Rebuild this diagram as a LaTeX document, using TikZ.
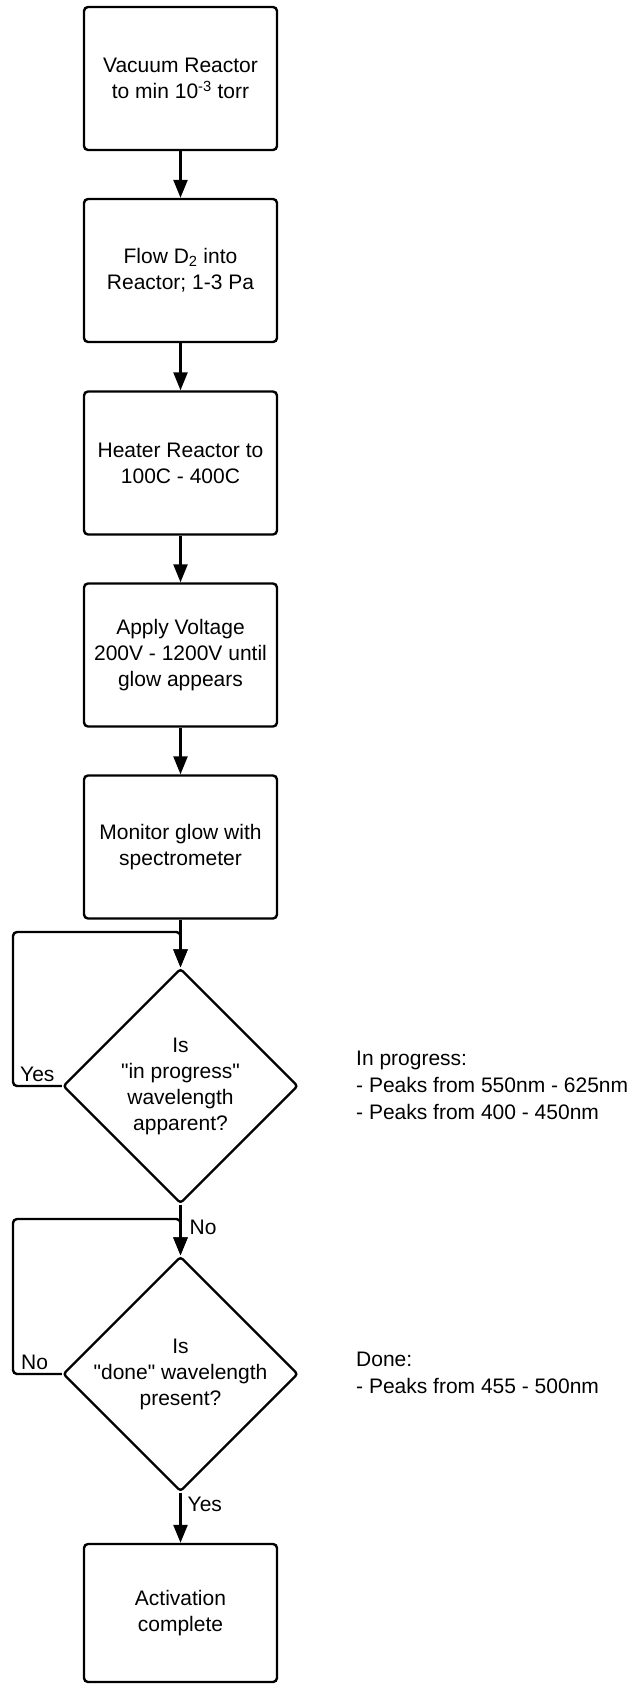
\documentclass[tikz,border=0pt]{standalone}
\usepackage{fontspec}
\setmainfont{Liberation Sans}[Ligatures=TeXOff]
\usetikzlibrary{shapes.geometric,arrows.meta}

\begin{document}
\begin{tikzpicture}[>={Triangle[length=18pt,width=14pt]}, x=1pt, y=-1pt, line width=2.4pt,
    every node/.style={font=\fontsize{21}{26}\selectfont},
    procbox/.style={draw, rounded corners=4pt, minimum width=193pt, minimum height=143pt, align=center},
    decision/.style={draw, diamond, aspect=1, rounded corners=3pt, minimum width=235pt, minimum height=235pt, inner sep=-5pt, align=center},
    note/.style={anchor=west, align=left, inner sep=0pt, font=\fontsize{21}{27}\selectfont},
    answer/.style={inner sep=3pt}]
    \def\midx{180.5}
    \def\loopx{13}

    \useasboundingbox (0,0) rectangle (637,1684);

    \node (vac) at (\midx,78.5) [procbox] {Vacuum Reactor\\to min 10\textsuperscript{-3} torr};
    \node (gas) at (\midx,270.5) [procbox] {Flow D\textsubscript{2} into\\Reactor; 1-3 Pa};
    \node (heat) at (\midx,463) [procbox] {Heater Reactor to\\100C - 400C};
    \node (volt) at (\midx,655) [procbox] {Apply Voltage\\200V - 1200V until\\glow appears};
    \node (mon) at (\midx,847) [procbox] {Monitor glow with\\spectrometer};
    \node (inprog) at (\midx,1086) [decision] {Is\\"in progress"\\wavelength\\apparent?};
    \node (done) at (\midx,1374) [decision] {Is\\"done" wavelength\\present?};
    \node (complete) at (\midx,1613) [procbox, minimum height=138pt] {Activation\\complete};

    \node (inprognote) at (355,1085) [note] {In progress:\\- Peaks from 550nm - 625nm\\- Peaks from 400 - 450nm};
    \node (donenote) at (355,1373) [note] {Done:\\- Peaks from 455 - 500nm};

    \coordinate (loopA) at (\loopx,932);
    \coordinate (loopB) at (\loopx,1219);

    \draw[->] (vac.south) -- (gas.north);
    \draw[->] (gas.south) -- (heat.north);
    \draw[->] (heat.south) -- (volt.north);
    \draw[->] (volt.south) -- (mon.north);
    \draw[->] (mon.south) -- (inprog.north);
    \draw[->, rounded corners=4pt] (inprog.west) -| (loopA) -| (inprog.north);
    \node (yesA) at (loopA |- inprog.west) [answer, anchor=south west, xshift=3pt] {Yes};
    \draw[->] (inprog.south) -- node[answer, right, pos=0.45, xshift=5pt] (noA) {No} (done.north);
    \draw[->, rounded corners=4pt] (done.west) -| (loopB) -| (done.north);
    \node (noB) at (loopB |- done.west) [answer, anchor=south west, xshift=4pt] {No};
    \draw[->] (done.south) -- node[answer, right, pos=0.24, xshift=3pt] (yesB) {Yes} (complete.north);
\end{tikzpicture}
\end{document}
